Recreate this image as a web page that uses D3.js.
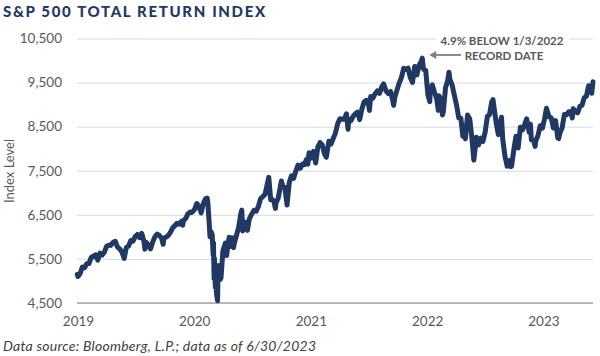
<!DOCTYPE html>
<html><head><meta charset="utf-8">
<script src="https://cdn.jsdelivr.net/npm/d3@7"></script>
<style>body{margin:0;background:#fff} svg{display:block}</style>
</head><body>
<svg id="c" width="600" height="356"></svg>
<script>
// ---- DATA ----
const yTicks = [4500, 5500, 6500, 7500, 8500, 9500, 10500];
const yearTicks = ["2019", "2020", "2021", "2022", "2023"];

const d2019 = ["01-02","01-04","01-11","01-18","01-25","02-01","02-08","02-15","02-22","03-01","03-08","03-15","03-22","03-29","04-05","04-12","04-18","04-26","05-03","05-10","05-17","05-24","05-31","06-07","06-14","06-21","06-28","07-05","07-12","07-19","07-26","08-02","08-05","08-09","08-16","08-23","08-30","09-06","09-13","09-20","09-27","10-02","10-04","10-11","10-18","10-25","11-01","11-08","11-15","11-22","11-29","12-03","12-06","12-13","12-20","12-27","12-31"];
const v2019 = [5150,5100,5170,5313,5301,5392,5394,5530,5564,5594,5472,5630,5586,5654,5783,5811,5807,5877,5898,5768,5726,5658,5510,5763,5791,5918,5902,6007,6055,5981,6079,5899,5722,5873,5813,5728,5887,6006,6062,6032,5971,5831,5960,5996,6029,6103,6201,6254,6309,6288,6351,6266,6374,6420,6526,6564,6553];

const d2020 = ["01-03","01-10","01-17","01-24","01-31","02-07","02-14","02-19","02-21","02-25","02-28","03-03","03-06","03-09","03-10","03-12","03-13","03-16","03-17","03-18","03-20","03-23","03-24","03-26","03-27","04-01","04-03","04-09","04-17","04-21","04-24","04-29","05-01","05-08","05-13","05-15","05-22","05-29","06-05","06-08","06-11","06-19","06-26","07-02","07-10","07-17","07-24","07-31","08-07","08-14","08-21","08-28","09-02","09-08","09-11","09-18","09-23","09-25","10-02","10-12","10-16","10-23","10-30","11-06","11-13","11-20","11-27","12-04","12-11","12-18","12-24","12-31"];
const v2020 = [6564,6625,6757,6686,6546,6762,6868,6880,6783,6356,6003,6111,6048,5590,5865,5049,5517,4856,5147,4880,4691,4552,4980,5352,5171,5036,5073,5686,5859,5578,5782,5992,5778,5980,5756,5845,6031,6213,6529,6606,6136,6332,6150,6407,6520,6602,6583,6696,6870,6915,6964,7191,7350,6841,6859,6814,6646,6771,6883,7266,7163,7124,6723,7231,7385,7329,7494,7631,7557,7652,7639,7760];

const d2021 = ["01-04","01-08","01-15","01-22","01-29","02-05","02-12","02-19","02-26","03-04","03-12","03-19","03-26","04-01","04-09","04-16","04-23","04-30","05-07","05-12","05-14","05-21","05-28","06-04","06-11","06-18","06-25","07-02","07-09","07-16","07-19","07-23","07-30","08-06","08-13","08-20","08-27","09-02","09-10","09-17","09-24","10-01","10-04","10-08","10-15","10-22","10-29","11-05","11-12","11-19","11-26","11-30","12-03","12-10","12-17","12-24","12-31"];
const v2021 = [7650,7906,7788,7939,7677,8042,8139,8084,7885,7807,8170,8108,8236,8337,8564,8680,8669,8671,8792,8439,8669,8632,8732,8794,8830,8661,8900,9061,9098,9009,8867,9186,9150,9247,9311,9257,9397,9469,9306,9252,9298,9102,8983,9173,9340,9495,9620,9826,9797,9828,9613,9554,9503,9867,9674,9896,9985];

const d2022 = ["01-03","01-07","01-14","01-21","01-27","01-28","02-04","02-11","02-18","02-23","02-25","03-04","03-08","03-11","03-18","03-25","03-29","04-01","04-08","04-14","04-22","04-29","05-06","05-12","05-13","05-20","05-27","06-03","06-10","06-16","06-24","07-01","07-08","07-15","07-22","07-29","08-05","08-12","08-16","08-19","08-26","09-02","09-09","09-12","09-16","09-23","09-30","10-07","10-12","10-14","10-21","10-28","11-04","11-11","11-18","11-25","12-01","12-09","12-13","12-16","12-23","12-28","12-30"];
const v2022 = [10054,9803,9774,9218,9067,9289,9448,9275,9129,8870,9204,9100,8767,8837,9381,9549,9736,9569,9447,9247,8993,8698,8691,8284,8483,8223,8765,8674,8235,7741,8258,8086,8242,8166,8376,8731,8775,9061,9114,8951,8591,8319,8622,8713,8211,7829,7602,7728,7594,7607,7968,8282,8017,8489,8430,8559,8680,8375,8556,8201,8186,8054,8179];

const d2023 = ["01-06","01-13","01-20","01-27","02-02","02-10","02-17","02-24","03-03","03-10","03-13","03-17","03-24","03-31","04-07","04-14","04-21","04-25","04-28","05-05","05-12","05-19","05-26","06-02","06-09","06-16","06-23","06-26","06-30"];
const v2023 = [8300,8522,8466,8679,8916,8724,8701,8468,8638,8245,8230,8363,8478,8777,8768,8839,8828,8698,8909,8839,8813,8958,8986,9155,9191,9429,9300,9258,9519];

// ---- BUILD ----
const parse = d3.timeParse("%Y-%m-%d");
const years = [[2019, d2019, v2019], [2020, d2020, v2020], [2021, d2021, v2021], [2022, d2022, v2022], [2023, d2023, v2023]];
const data = years.flatMap(([yr, ds, vs]) => ds.map((d, i) => ({ date: parse(yr + "-" + d), value: vs[i] })));

const svg = d3.select("#c");
const pLeft = 77, pRight = 593, pTop = 38.5, pBottom = 303;
const navy = "#1f3864";
const font = "Lato, 'Open Sans', sans-serif";

const x = d3.scaleTime().domain([parse("2019-01-01"), parse("2023-06-30")]).range([pLeft, pRight]);
const y = d3.scaleLinear().domain([4500, 10500]).range([pBottom, pTop]);

// gridlines + y labels
const yAxis = d3.axisLeft(y).tickValues(yTicks).tickSize(-(pRight - pLeft)).tickPadding(15)
  .tickFormat(d3.format(","));
const gy = svg.append("g").attr("transform", `translate(${pLeft},0)`).call(yAxis);
gy.select(".domain").remove();
gy.selectAll(".tick line").attr("stroke", "#d9d9d9").attr("stroke-width", 1);
gy.selectAll(".tick text").attr("fill", "#595959").style("font-family", font).style("font-size", "13.5px");

// bottom axis line
svg.append("line").attr("x1", pLeft).attr("x2", pRight).attr("y1", y(4500)).attr("y2", y(4500))
  .attr("stroke", "#a6a6a6").attr("stroke-width", 1.3);

// x labels
const xAxis = d3.axisBottom(x).tickValues(yearTicks.map(t => parse(t + "-01-01"))).tickSize(0).tickPadding(13)
  .tickFormat(d3.timeFormat("%Y"));
const gx = svg.append("g").attr("transform", `translate(0,${pBottom})`).call(xAxis);
gx.select(".domain").remove();
gx.selectAll(".tick text").attr("fill", "#595959").attr("dx", (d, i) => i * 1.5 + 1)
  .style("font-family", font).style("font-size", "13.5px");

// y axis title
svg.append("text").attr("transform", `translate(14,171) rotate(-90)`).attr("text-anchor", "middle")
  .attr("fill", "#595959").style("font-family", font).style("font-size", "13px")
  .text("Index Level");

// line
const line = d3.line().x(d => x(d.date)).y(d => y(d.value));
svg.append("path").datum(data).attr("d", line).attr("fill", "none").attr("stroke", navy)
  .attr("stroke-width", 5).attr("stroke-linejoin", "round").attr("stroke-linecap", "round");

// annotation
const ann = svg.append("g");
ann.append("rect").attr("x", 436).attr("y", 30).attr("width", 133).attr("height", 34).attr("fill", "#fff");
ann.append("text").attr("x", 502).attr("y", 45).attr("text-anchor", "middle").attr("fill", "#595959")
  .style("font-family", font).style("font-weight", "700").style("font-size", "11.5px")
  .text("4.9% BELOW 1/3/2022");
ann.append("text").attr("x", 504).attr("y", 60).attr("text-anchor", "middle").attr("fill", "#595959")
  .style("font-family", font).style("font-weight", "700").style("font-size", "11.5px")
  .text("RECORD DATE");
const tipX = x(parse("2022-01-03")) + 7;
ann.append("line").attr("x1", 461).attr("x2", tipX + 4).attr("y1", 55).attr("y2", 55)
  .attr("stroke", "#7f7f7f").attr("stroke-width", 1.8);
ann.append("path").attr("d", `M${tipX},55 L${tipX + 7},51 L${tipX + 7},59 Z`).attr("fill", "#7f7f7f");

// title
svg.append("text").attr("x", 3).attr("y", 17).attr("fill", navy)
  .style("font-family", font).style("font-weight", "900").style("font-size", "15px")
  .style("letter-spacing", "1.65px").text("S&P 500 TOTAL RETURN INDEX");

// source
svg.append("text").attr("x", 3).attr("y", 351).attr("fill", "#404040")
  .style("font-family", font).style("font-style", "italic").style("font-size", "14px")
  .style("letter-spacing", "0.25px")
  .text("Data source: Bloomberg, L.P.; data as of 6/30/2023");
</script></body></html>
